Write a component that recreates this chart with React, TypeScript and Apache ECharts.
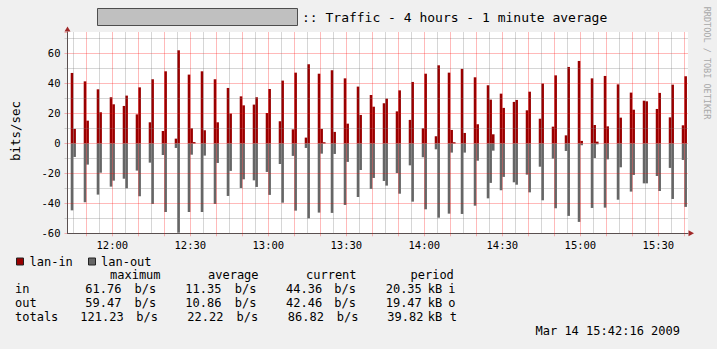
import React, { useEffect, useRef } from 'react';
import * as echarts from 'echarts';

// ---- data ----
const FIRST_SAMPLE = '11:44';      // start of the first 1-minute bin with traffic
const SAMPLE_STEP_MIN = 5;         // one update every 5 minutes
const X_START = '11:42:46';
const X_END = '15:41:24';

// first and second 1-minute bin of each 5-minute update
const inA = [46.9, 41.3, 36.0, 30.7, 24.9, 19.3, 14.0, 8.2, 3.1, 45.8, 48.0, 42.7, 36.9, 31.3, 25.8, 20.2, 14.7, 9.3, 3.8, 46.4, 48.7, 43.3, 37.8, 32.2, 26.7, 21.3, 15.6, 10.0, 4.7, 47.1, 49.6, 44.0, 38.7, 33.1, 27.6, 22.0, 16.4, 11.1, 5.3, 54.9, 43.3, 44.9, 39.3, 33.8, 28.4, 22.9, 17.3, 12.0];
const inB = [9.6, 15.1, 20.7, 26.0, 31.8, 37.3, 42.7, 48.0, 62.0, 10.0, 8.7, 14.0, 19.8, 25.3, 30.7, 36.2, 41.8, 47.1, 52.7, 9.6, 7.6, 13.1, 18.9, 24.4, 29.8, 35.3, 40.9, 46.4, 52.0, 8.9, 6.9, 12.7, 29.1, 23.6, 28.9, 34.4, 39.8, 45.3, 50.9, 1.6, 12.2, 11.3, 17.1, 22.4, 28.0, 33.6, 39.1, 44.7];
const outA = [-44.7, -39.3, -34.2, -28.9, -23.6, -18.2, -12.9, -7.8, -3.1, -45.8, -45.8, -40.4, -35.1, -29.8, -24.7, -19.1, -13.8, -8.4, -3.1, -46.2, -46.4, -41.1, -35.8, -30.4, -25.1, -19.8, -14.7, -9.3, -4.0, -46.9, -47.1, -41.6, -36.7, -31.3, -26.0, -20.9, -15.6, -10.2, -5.1, -52.4, -43.1, -42.9, -37.6, -32.2, -26.7, -21.8, -16.4, -11.1];
const outB = [-9.1, -14.2, -19.6, -24.9, -30.0, -35.3, -40.4, -45.8, -59.6, -7.6, -8.2, -13.1, -18.4, -24.0, -29.1, -34.4, -39.6, -44.9, -50.0, -6.9, -7.1, -12.4, -17.8, -23.1, -28.2, -33.6, -38.9, -44.0, -49.6, -6.2, -6.2, -11.6, -26.4, -22.4, -27.6, -32.7, -38.0, -43.3, -48.4, -1.3, -9.8, -10.7, -16.0, -21.1, -26.7, -31.8, -37.1, -42.4];
// occasional third bin
const thirdGroup = [9, 19, 29, 32, 40];
const thirdIn = [0.8, 0.7, 0.7, 6.0, 1.1];
const thirdOut = [-0.2, -0.2, -0.2, -4.9, -0.7];

const xLabelTimes = ['12:00', '12:30', '13:00', '13:30', '14:00', '14:30', '15:00', '15:30'];
const MAJOR_GRID_MIN = 10;
const MINOR_GRID_MIN = 5;
const Y_MIN = -60;
const Y_MAX = 74.2;
const Y_STEP = 20;

const titleText = ':: Traffic - 4 hours - 1 minute average';
const yName = 'bits/sec';
const sideText = 'RRDTOOL / TOBI OETIKER';
const legendNames = ['lan-in', 'lan-out'];
const statHeaders = ['maximum', 'average', 'current', 'period'];
const statRowNames = ['in', 'out', 'totals'];
const maxVals = ['61.76', '59.47', '121.23'];
const avgVals = ['11.35', '10.86', '22.22'];
const curVals = ['44.36', '42.46', '86.82'];
const periodVals = ['20.35', '19.47', '39.82'];
const periodSuffix = ['i', 'o', 't'];
const dateStamp = 'Mar 14 15:42:16 2009';

// ---- helpers ----
const toMin = (s: string) => {
  const p = s.split(':').map(Number);
  return p[0] * 60 + p[1] + (p[2] || 0) / 60;
};
const fmtMin = (v: number) => {
  const h = Math.floor(v / 60 + 1e-6);
  const m = Math.round(v - h * 60);
  return `${h}:${String(m).padStart(2, '0')}`;
};

const RED = '#990000';
const GRAY = '#666666';
const MONO = 'DejaVu Sans Mono';
const MGRID = 'rgba(255,0,0,0.27)';
const GRID = 'rgba(120,120,120,0.3)';

export default function App() {
  const ref = useRef<HTMLDivElement>(null);

  useEffect(() => {
    if (!ref.current) return;
    const chart = echarts.init(ref.current, undefined, { renderer: 'svg' });

    const t0 = toMin(FIRST_SAMPLE);
    const inData: number[][] = [];
    const outData: number[][] = [];
    inA.forEach((v, k) => {
      const tA = t0 + k * SAMPLE_STEP_MIN + 0.5;
      inData.push([tA, v], [tA + 1, inB[k]]);
      outData.push([tA, outA[k]], [tA + 1, outB[k]]);
    });
    thirdGroup.forEach((k, i) => {
      const t = t0 + k * SAMPLE_STEP_MIN + 2.5;
      inData.push([t, thirdIn[i]]);
      outData.push([t, thirdOut[i]]);
    });

    const xMin = toMin(X_START);
    const xMax = toMin(X_END);
    const majorVals: number[] = [];
    const gridLines: any[] = [];
    for (let t = Math.ceil(xMin / MINOR_GRID_MIN) * MINOR_GRID_MIN; t <= xMax; t += MINOR_GRID_MIN) {
      const major = Math.abs(t % MAJOR_GRID_MIN) < 1e-6;
      if (major) majorVals.push(t);
      gridLines.push({ xAxis: t, lineStyle: { color: major ? MGRID : GRID, width: 1, type: 'solid' } });
    }
    const labelVals = xLabelTimes.map(toMin);

    const txt = (text: string, x: number, y: number, extra: any = {}) => ({
      type: 'text',
      x,
      y,
      style: {
        text,
        fill: '#000',
        font: `12px "${MONO}"`,
        verticalAlign: 'middle',
        ...extra,
      },
    });

    const colsInOut = [15, 85.3, 134.6, 185.3, 234.8, 286, 334.3, 385.7, 427.7, 448.3];
    const colsTotals = [15, 80.3, 136.3, 187.3, 236.6, 287.8, 336.7, 387.3, 427.7, 449.7];
    const rowY = [289.3, 303.3, 317.2];
    const statTexts: any[] = [];
    statRowNames.forEach((name, r) => {
      const c = r === 2 ? colsTotals : colsInOut;
      const y = rowY[r];
      const pieces = [name, maxVals[r], 'b/s', avgVals[r], 'b/s', curVals[r], 'b/s', periodVals[r], 'kB', periodSuffix[r]];
      pieces.forEach((p, i) => statTexts.push(txt(p, c[i], y)));
    });
    const headerX = [110, 208, 306, 410.5];
    statHeaders.forEach((h, i) => statTexts.push(txt(h, headerX[i], 275.2)));

    chart.setOption({
      animation: false,
      backgroundColor: '#f0f0f0',
      grid: {
        left: 67.5,
        top: 32,
        width: 620.5,
        height: 201.3,
        show: true,
        backgroundColor: '#ffffff',
        borderWidth: 0,
      },
      xAxis: {
        type: 'value',
        min: xMin,
        max: xMax,
        z: 4,
        axisLine: { show: true, onZero: false, lineStyle: { color: '#5a5050', width: 1 } },
        axisTick: { show: true, length: 3, customValues: majorVals, lineStyle: { color: MGRID } },
        axisLabel: {
          customValues: labelVals,
          formatter: (v: number) => fmtMin(v),
          fontFamily: MONO,
          fontSize: 10.5,
          color: '#000',
          margin: 6,
        },
        splitLine: { show: false },
      },
      yAxis: {
        type: 'value',
        min: Y_MIN,
        max: Y_MAX,
        interval: Y_STEP,
        z: 3,
        axisLine: { show: true, lineStyle: { color: '#5a5050', width: 1 } },
        axisTick: { show: true, length: 3, lineStyle: { color: MGRID } },
        minorTick: { show: true, splitNumber: 2, length: 3, lineStyle: { color: GRID } },
        axisLabel: {
          showMaxLabel: false,
          fontFamily: MONO,
          fontSize: 10.5,
          color: '#000',
          margin: 7,
        },
        splitLine: {
          show: true,
          showMaxLine: false,
          lineStyle: { color: MGRID, width: 1 },
        },
        minorSplitLine: {
          show: true,
          lineStyle: { color: GRID, width: 1 },
        },
      },
      series: [
        {
          name: legendNames[0],
          type: 'bar',
          data: inData,
          barWidth: 2.6,
          barGap: '-100%',
          itemStyle: { color: RED },
          z: 2,
        },
        {
          name: legendNames[1],
          type: 'bar',
          data: outData,
          barWidth: 2.6,
          barGap: '-100%',
          itemStyle: { color: GRAY },
          z: 2,
          markLine: {
            silent: true,
            symbol: ['none', 'none'],
            label: { show: false },
            emphasis: { disabled: true },
            data: gridLines,
          },
        },
      ],
      graphic: [
        // axis arrows
        { type: 'polygon', z: 10, shape: { points: [[64.5, 31.5], [70.5, 31.5], [67.5, 26.5]] }, style: { fill: '#a02828' } },
        { type: 'polygon', z: 10, shape: { points: [[688.5, 230.3], [688.5, 236.3], [694, 233.3]] }, style: { fill: '#a02828' } },
        // title
        { type: 'rect', shape: { x: 97.5, y: 8.5, width: 200, height: 17 }, style: { fill: '#c0c0c0', stroke: '#4d4d4d', lineWidth: 1 } },
        txt(titleText, 302, 17, { font: `13px "${MONO}"` }),
        // y axis name
        { type: 'text', x: 15.5, y: 131, rotation: Math.PI / 2, style: { text: yName, fill: '#000', font: `12.5px "${MONO}"`, align: 'center', verticalAlign: 'middle' } },
        // side credit
        { type: 'text', x: 707, y: 63, rotation: -Math.PI / 2, style: { text: sideText, fill: '#a8a8a8', font: `8.5px "${MONO}"`, align: 'center', verticalAlign: 'middle' } },
        // legend
        { type: 'rect', shape: { x: 16.5, y: 258, width: 7, height: 7 }, style: { fill: RED, stroke: '#222', lineWidth: 1 } },
        txt(legendNames[0], 29.5, 261.5),
        { type: 'rect', shape: { x: 88.5, y: 258, width: 7, height: 7 }, style: { fill: GRAY, stroke: '#222', lineWidth: 1 } },
        txt(legendNames[1], 101, 261.5),
        ...statTexts,
        txt(dateStamp, 535.5, 331.2),
      ],
    });

    return () => chart.dispose();
  }, []);

  return (
    <div
      ref={ref}
      style={{ position: 'absolute', left: 0, top: 0, width: 717, height: 349 }}
    />
  );
}
